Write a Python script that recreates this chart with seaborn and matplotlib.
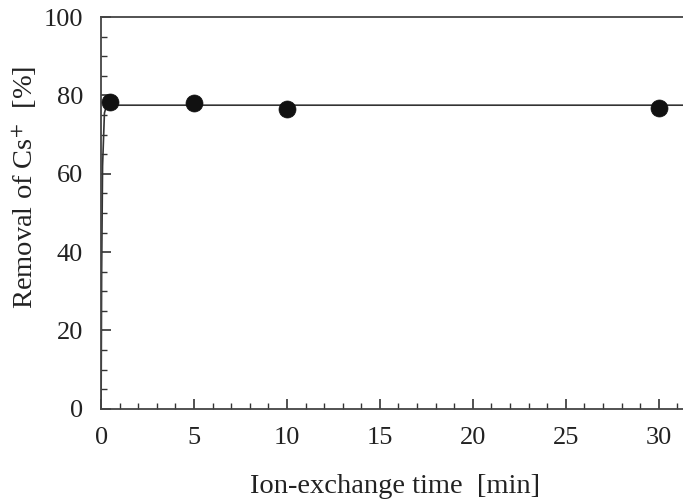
import numpy as np
import pandas as pd
import matplotlib
matplotlib.use("Agg")
import matplotlib.pyplot as plt
import seaborn as sns
from matplotlib.ticker import MultipleLocator

# measured points
time_min = [0.5, 5, 10, 30]
removal_pct = [78.2, 78.0, 76.5, 76.8]

# fitted curve
fit_time = [0.0, 0.03, 0.08, 0.18, 0.3, 1.0, 32.0]
fit_removal = [0.0, 35.0, 62.0, 75.5, 77.5, 77.5, 77.5]

sns.set_theme(style="ticks")
plt.rcParams['font.family'] = ['Liberation Serif', 'DejaVu Serif']
plt.rcParams['mathtext.fontset'] = 'stix'

fig = plt.figure(figsize=(6.83, 5.01), dpi=100)
ax = fig.add_axes([0.148, 0.184, 0.86, 0.782])

df_fit = pd.DataFrame({'t': fit_time, 'r': fit_removal})
df_pts = pd.DataFrame({'t': time_min, 'r': removal_pct})

sns.lineplot(data=df_fit, x='t', y='r', ax=ax, color='#333333', linewidth=1.2,
             estimator=None, sort=False)
sns.scatterplot(data=df_pts, x='t', y='r', ax=ax, color='#111111', s=150,
                edgecolor='#111111', linewidth=0.5, zorder=5)

ax.set_xlim(0, 31.6)
ax.set_ylim(0, 100)
ax.xaxis.set_major_locator(MultipleLocator(5))
ax.xaxis.set_minor_locator(MultipleLocator(1))
ax.yaxis.set_major_locator(MultipleLocator(20))
ax.yaxis.set_minor_locator(MultipleLocator(5))
ax.tick_params(which='both', direction='in', top=False, right=False,
               colors='#333333', labelcolor='#222222', labelsize=19)
ax.tick_params(axis='x', which='major', pad=13)
ax.tick_params(axis='y', which='major', pad=13)
ax.tick_params(which='major', length=7, width=1.2)
ax.tick_params(which='minor', length=4, width=1.0)

ax.spines['right'].set_visible(False)
for s in ['left', 'bottom', 'top']:
    ax.spines[s].set_color('#444444')
    ax.spines[s].set_linewidth(1.3)

ax.set_xlabel('Ion-exchange time  [min]', fontsize=20.5, color='#222222', labelpad=18)
ax.set_ylabel('Removal of Cs$^{+}$  [%]', fontsize=20.5, color='#222222')
ax.yaxis.set_label_coords(-0.105, 0.565)

fig.savefig('out.png', dpi=100)
